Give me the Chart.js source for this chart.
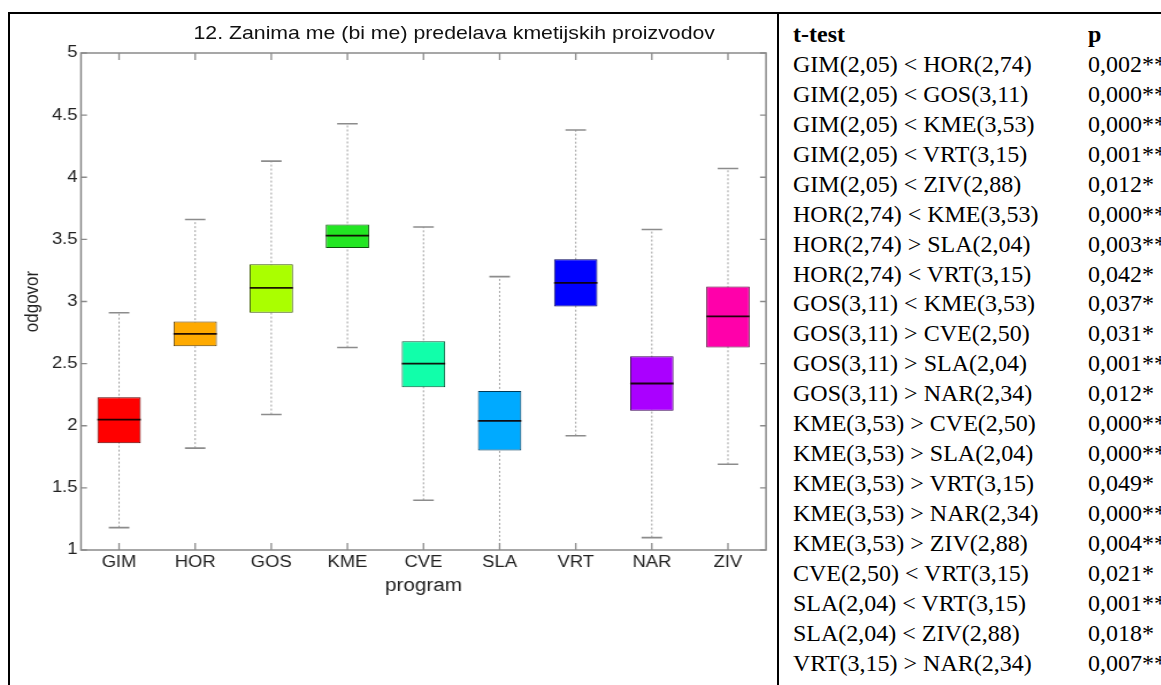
<!DOCTYPE html>
<html>
<head>
<meta charset="utf-8">
<script src="https://cdn.jsdelivr.net/npm/chart.js@4.4.1/dist/chart.umd.min.js"></script>
<style>
  html, body { margin:0; padding:0; background:#fff; width:1161px; height:685px; overflow:hidden; }
  #page { position:relative; width:1161px; height:685px; overflow:hidden; }
  .bl { position:absolute; background:#000; }
  #wrap { position:absolute; left:0; top:0; width:676px; height:685px; transform:scaleX(1.15); transform-origin:0 0; }
  #wrap canvas { position:absolute; left:0; top:0; }
  #ctitle { position:absolute; top:22px; width:400px; text-align:center; font-family:"Liberation Sans", Arial, sans-serif; font-size:18.5px; line-height:22px; color:#111; white-space:nowrap; }
  #table { position:absolute; left:793px; top:20px; font-family:"Liberation Serif", "Times New Roman", serif; font-size:24px; line-height:29.95px; color:#000; white-space:nowrap; }
  .row { position:relative; height:29.95px; }
  .c1 { position:absolute; left:0; }
  .c2 { position:absolute; left:295px; }
  .hdr { font-weight:bold; }
</style>
</head>
<body>
<div id="page">
  <div class="bl" style="left:8px; top:12px; width:1153px; height:2px;"></div>
  <div class="bl" style="left:8px; top:12px; width:2px; height:673px;"></div>
  <div class="bl" style="left:777px; top:12px; width:2px; height:673px;"></div>
  <div id="wrap">
    <canvas id="c" width="676" height="685"></canvas>
    <div id="ctitle"></div>
  </div>
  <div id="table"></div>
</div>
<script>
// ---- data ----
const chartTitle = '12. Zanima me (bi me) predelava kmetijskih proizvodov';
const categories = ['GIM', 'HOR', 'GOS', 'KME', 'CVE', 'SLA', 'VRT', 'NAR', 'ZIV'];
const whiskerLow  = [1.18, 1.82, 2.09, 2.63, 1.40, 0.88, 1.92, 1.10, 1.69];
const boxLow      = [1.86, 2.64, 2.91, 3.43, 2.31, 1.80, 2.96, 2.12, 2.63];
const medians     = [2.05, 2.74, 3.11, 3.53, 2.50, 2.04, 3.15, 2.34, 2.88];
const boxHigh     = [2.23, 2.84, 3.30, 3.62, 2.68, 2.28, 3.34, 2.56, 3.12];
const whiskerHigh = [2.91, 3.66, 4.13, 4.43, 3.60, 3.20, 4.38, 3.58, 4.07];
const boxColors   = ['#ff0000', '#ffaa00', '#aaff00', '#22e622', '#11ffaa', '#00aaff', '#0000ff', '#aa00ff', '#ff00aa'];
const yTickValues = [1, 1.5, 2, 2.5, 3, 3.5, 4, 4.5, 5];
const xAxisTitle = 'program';
const yAxisTitle = 'odgovor';

const tableHeader = ['t-test', 'p'];
const tTests = [
  'GIM(2,05) < HOR(2,74)', 'GIM(2,05) < GOS(3,11)', 'GIM(2,05) < KME(3,53)', 'GIM(2,05) < VRT(3,15)',
  'GIM(2,05) < ZIV(2,88)', 'HOR(2,74) < KME(3,53)', 'HOR(2,74) > SLA(2,04)', 'HOR(2,74) < VRT(3,15)',
  'GOS(3,11) < KME(3,53)', 'GOS(3,11) > CVE(2,50)', 'GOS(3,11) > SLA(2,04)', 'GOS(3,11) > NAR(2,34)',
  'KME(3,53) > CVE(2,50)', 'KME(3,53) > SLA(2,04)', 'KME(3,53) > VRT(3,15)', 'KME(3,53) > NAR(2,34)',
  'KME(3,53) > ZIV(2,88)', 'CVE(2,50) < VRT(3,15)', 'SLA(2,04) < VRT(3,15)', 'SLA(2,04) < ZIV(2,88)',
  'VRT(3,15) > NAR(2,34)'
];
const pValues = [
  '0,002**', '0,000**', '0,000**', '0,001**', '0,012*', '0,000**', '0,003**', '0,042*',
  '0,037*', '0,031*', '0,001**', '0,012*', '0,000**', '0,000**', '0,049*', '0,000**',
  '0,004**', '0,021*', '0,001**', '0,018*', '0,007**'
];

// ---- table ----
const tbl = document.getElementById('table');
function addRow(a, b, cls) {
  const r = document.createElement('div'); r.className = 'row' + (cls ? ' ' + cls : '');
  const s1 = document.createElement('span'); s1.className = 'c1'; s1.textContent = a;
  const s2 = document.createElement('span'); s2.className = 'c2'; s2.textContent = b;
  r.appendChild(s1); r.appendChild(s2); tbl.appendChild(r);
}
addRow(tableHeader[0], tableHeader[1], 'hdr');
tTests.forEach((t, i) => addRow(t, pValues[i]));

// ---- chart ----
const K = 1.15;                 // horizontal stretch of the chart image
const PLOT_LEFT = 81 / K;
const PLOT_RIGHT = 766 / K;
const CW = 676;

const axisColor = '#8a8a8a';
const textColor = '#222222';
const fontFam = '"Liberation Sans", Arial, Helvetica, sans-serif';

const boxExtras = {
  id: 'boxExtras',
  beforeDatasetsDraw(chart) {
    const {ctx, chartArea: a, scales: {x, y}} = chart;
    const catW = x.getPixelForValue(1) - x.getPixelForValue(0);
    const capHalf = catW * 0.135;
    ctx.save();
    ctx.beginPath(); ctx.rect(a.left, a.top, a.right - a.left, a.bottom - a.top); ctx.clip();
    categories.forEach((c, i) => {
      const cx = x.getPixelForValue(i);
      ctx.setLineDash([2, 2]);
      ctx.strokeStyle = '#a0a0a0'; ctx.lineWidth = 1;
      ctx.beginPath();
      ctx.moveTo(cx, y.getPixelForValue(whiskerLow[i]));
      ctx.lineTo(cx, y.getPixelForValue(whiskerHigh[i]));
      ctx.stroke();
      ctx.setLineDash([]);
      ctx.strokeStyle = '#8c8c8c'; ctx.lineWidth = 1.6;
      [whiskerLow[i], whiskerHigh[i]].forEach(v => {
        const py = y.getPixelForValue(v);
        ctx.beginPath(); ctx.moveTo(cx - capHalf, py); ctx.lineTo(cx + capHalf, py); ctx.stroke();
      });
    });
    ctx.restore();
  },
  afterDatasetsDraw(chart) {
    const {ctx, chartArea: a, scales: {x, y}} = chart;
    const meta = chart.getDatasetMeta(0);
    ctx.save();
    // medians
    ctx.strokeStyle = 'rgba(15,0,0,0.92)'; ctx.lineWidth = 1.8;
    meta.data.forEach((bar, i) => {
      const py = y.getPixelForValue(medians[i]);
      ctx.beginPath(); ctx.moveTo(bar.x - bar.width / 2, py); ctx.lineTo(bar.x + bar.width / 2, py); ctx.stroke();
    });
    // frame
    ctx.strokeStyle = axisColor; ctx.lineWidth = 1.5;
    ctx.strokeRect(a.left, a.top, a.right - a.left, a.bottom - a.top);
    // inward ticks
    ctx.lineWidth = 1.3;
    const tlx = 6 / K, tly = 7;
    y.ticks.forEach(t => {
      const py = y.getPixelForValue(t.value);
      ctx.beginPath();
      ctx.moveTo(a.left, py); ctx.lineTo(a.left + tlx, py);
      ctx.moveTo(a.right, py); ctx.lineTo(a.right - tlx, py);
      ctx.stroke();
    });
    categories.forEach((c, i) => {
      const px = x.getPixelForValue(i);
      ctx.beginPath();
      ctx.moveTo(px, a.top); ctx.lineTo(px, a.top + tly);
      ctx.moveTo(px, a.bottom); ctx.lineTo(px, a.bottom - tly);
      ctx.stroke();
    });
    ctx.restore();
  }
};

function darker(hex) {
  const n = parseInt(hex.slice(1), 16);
  const r = (n >> 16) & 255, g = (n >> 8) & 255, b = n & 255;
  return `rgb(${Math.round(r * 0.35)},${Math.round(g * 0.35)},${Math.round(b * 0.35)})`;
}

const chart = new Chart(document.getElementById('c'), {
  type: 'bar',
  data: {
    labels: categories,
    datasets: [{
      data: boxLow.map((v, i) => [v, boxHigh[i]]),
      backgroundColor: boxColors,
      borderColor: boxColors.map(darker),
      borderWidth: 1,
      borderSkipped: false,
      barPercentage: 0.57,
      categoryPercentage: 1
    }]
  },
  options: {
    responsive: false,
    animation: false,
    devicePixelRatio: 1,
    layout: { padding: { top: 53, left: 0, right: CW - PLOT_RIGHT, bottom: 85 } },
    plugins: { legend: { display: false }, tooltip: { enabled: false }, title: { display: false } },
    scales: {
      x: {
        type: 'category',
        offset: true,
        grid: { display: false, drawTicks: false },
        border: { display: false },
        ticks: { color: textColor, font: { family: fontFam, size: 16 }, padding: 3, maxRotation: 0 },
        title: { display: true, text: xAxisTitle, color: textColor, font: { family: fontFam, size: 18 }, padding: { top: 0, bottom: 3.5 } },
        afterFit(s) { s.height = 50; }
      },
      y: {
        min: 1, max: 5,
        afterBuildTicks(s) { s.ticks = yTickValues.map(v => ({ value: v })); },
        grid: { display: false, drawTicks: false },
        border: { display: false },
        ticks: { color: textColor, font: { family: fontFam, size: 16 }, padding: 3, callback: v => String(v) },
        title: { display: true, text: yAxisTitle, color: textColor, font: { family: fontFam, size: 17 }, padding: { top: 18.5, bottom: 0 } },
        afterFit(s) { s.width = PLOT_LEFT; }
      }
    }
  },
  plugins: [boxExtras]
});

// title centred over the plot area
const tEl = document.getElementById('ctitle');
tEl.textContent = chartTitle;
const ca = chart.chartArea;
tEl.style.left = ((ca.left + ca.right) / 2 - 200) + 'px';
</script>
</body>
</html>
